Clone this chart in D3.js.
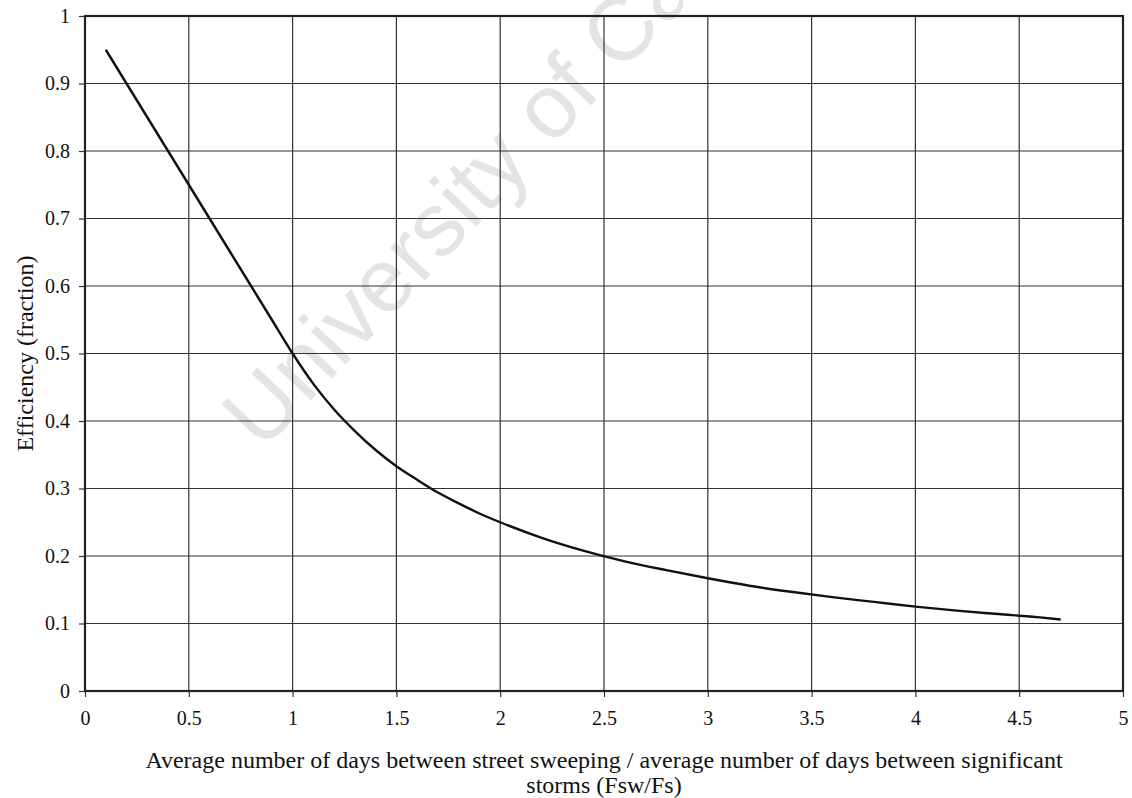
<!DOCTYPE html>
<html>
<head>
<meta charset="utf-8">
<script src="https://cdn.jsdelivr.net/npm/d3@7"></script>
<style>
  html, body { margin: 0; padding: 0; background: #fff; }
  svg { display: block; }
  svg text { font-family: 'Liberation Serif', 'Times New Roman', serif; }
</style>
</head>
<body>
<svg id="chart" width="1132" height="798"></svg>
<script>
// ---- data ----
const ratioX = [0.1, 0.2, 0.3, 0.4, 0.5, 0.6, 0.7, 0.8, 0.9, 1.0,
                1.1, 1.2, 1.3, 1.4, 1.5, 1.6, 1.7, 1.8, 1.9, 2.0,
                2.2, 2.4, 2.6, 2.8, 3.0, 3.2, 3.4, 3.6, 3.8, 4.0,
                4.2, 4.4, 4.6, 4.7];
const efficiency = [0.95, 0.90, 0.85, 0.80, 0.75, 0.70, 0.65, 0.60, 0.55, 0.50,
                    0.455, 0.417, 0.385, 0.357, 0.333, 0.313, 0.294, 0.278, 0.263, 0.25,
                    0.227, 0.208, 0.192, 0.179, 0.167, 0.156, 0.147, 0.139, 0.132, 0.125,
                    0.119, 0.114, 0.109, 0.106];
const xTicks = [0, 0.5, 1, 1.5, 2, 2.5, 3, 3.5, 4, 4.5, 5];
const yTicks = [0, 0.1, 0.2, 0.3, 0.4, 0.5, 0.6, 0.7, 0.8, 0.9, 1];
const xTitleLines = ["Average number of days between street sweeping / average number of days between significant",
                     "storms (Fsw/Fs)"];
const yTitle = "Efficiency (fraction)";
const watermark = "University of Cape Town";

// ---- layout ----
const W = 1132, H = 798;
const margin = { left: 85, right: 9, top: 16, bottom: 107 };
const pw = W - margin.left - margin.right;
const ph = H - margin.top - margin.bottom;
const serif = "'Liberation Serif', 'Times New Roman', serif";

const svg = d3.select("#chart");

const x = d3.scaleLinear().domain([0, 5]).range([margin.left, margin.left + pw]);
const y = d3.scaleLinear().domain([0, 1]).range([margin.top + ph, margin.top]);

// watermark
svg.append("text")
  .attr("transform", "translate(262,452) rotate(-46.5)")
  .style("font-family", "'Liberation Sans', Arial, sans-serif")
  .attr("font-size", 90)
  .attr("fill", "#e4e4e4")
  .text(watermark);

const fmt = d => d3.format("")(d);

// grid lines
const grid = svg.append("g");
grid.selectAll("line.v").data(xTicks.filter(d => d > 0 && d < 5)).join("line")
  .attr("x1", d => x(d)).attr("x2", d => x(d))
  .attr("y1", y(1)).attr("y2", y(0))
  .attr("stroke", "#333").attr("stroke-width", 1.2);
grid.selectAll("line.h").data(yTicks.filter(d => d > 0 && d < 1)).join("line")
  .attr("x1", x(0)).attr("x2", x(5))
  .attr("y1", d => y(d)).attr("y2", d => y(d))
  .attr("stroke", "#333").attr("stroke-width", 1.2);

// axes
const xAxis = d3.axisBottom(x).tickValues(xTicks).tickFormat(fmt).tickSize(6).tickPadding(14);
const yAxis = d3.axisLeft(y).tickValues(yTicks).tickFormat(fmt).tickSize(6).tickPadding(9);

const gx = svg.append("g").attr("transform", `translate(0,${y(0)})`).call(xAxis);
const gy = svg.append("g").attr("transform", `translate(${x(0)},0)`).call(yAxis);
[gx, gy].forEach(g => {
  g.attr("font-family", null).style("font-family", serif).attr("font-size", 20);
  g.select(".domain").remove();
  g.selectAll(".tick line").attr("stroke", "#333").attr("stroke-width", 1.2);
  g.selectAll(".tick text")
    .style("font-family", serif)
    .attr("font-size", 20)
    .attr("fill", "#111");
});

// plot border
svg.append("rect")
  .attr("x", x(0)).attr("y", y(1))
  .attr("width", x(5) - x(0)).attr("height", y(0) - y(1))
  .attr("fill", "none").attr("stroke", "#222").attr("stroke-width", 2.2);

// curve
const pts = ratioX.map((d, i) => [d, efficiency[i]]);
svg.append("path")
  .datum(pts)
  .attr("d", d3.line().x(d => x(d[0])).y(d => y(d[1])).curve(d3.curveMonotoneX))
  .attr("fill", "none")
  .attr("stroke", "#111")
  .attr("stroke-width", 2.4);

// axis titles
const xt = svg.append("text")
  .attr("x", (x(0) + x(5)) / 2)
  .attr("y", 768)
  .attr("text-anchor", "middle")
  .style("font-family", serif)
  .attr("font-size", 24)
  .attr("fill", "#111");
xt.selectAll("tspan").data(xTitleLines).join("tspan")
  .attr("x", (x(0) + x(5)) / 2)
  .attr("dy", (d, i) => i === 0 ? 0 : 25)
  .text(d => d);

svg.append("text")
  .attr("transform", `translate(33,${(y(0) + y(1)) / 2}) rotate(-90)`)
  .attr("text-anchor", "middle")
  .style("font-family", serif)
  .attr("font-size", 24)
  .attr("fill", "#111")
  .text(yTitle);
</script>
</body>
</html>
